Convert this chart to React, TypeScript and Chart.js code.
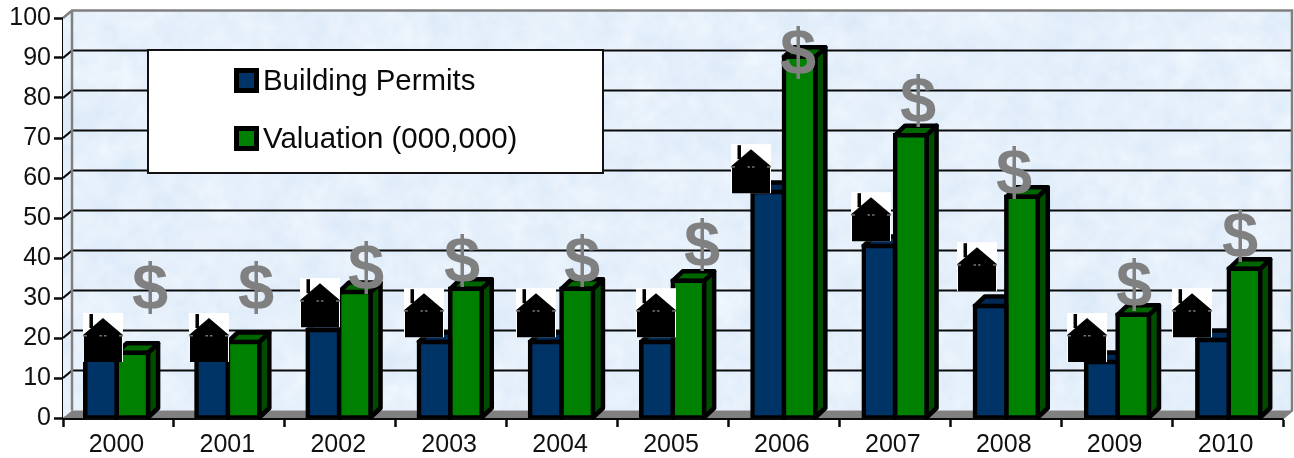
import React, { useEffect, useRef } from "react";
import { Chart, registerables } from "chart.js";

Chart.register(...registerables);

const years = ["2000", "2001", "2002", "2003", "2004", "2005", "2006", "2007", "2008", "2009", "2010"];
const buildingPermits = [15, 15, 22, 19, 19, 19, 56.5, 43, 28, 14, 19.5];
const valuation = [16.3, 19, 31.5, 32.3, 32.3, 34.3, 90.3, 70.7, 55.3, 25.8, 37.3];
const yTicks = [0, 10, 20, 30, 40, 50, 60, 70, 80, 90, 100];
// Where the pasted pictures rest, on the value axis.
const houseLevels = [14, 14, 22.7, 20.2, 20.2, 20.2, 56.2, 44.2, 31.7, 14, 20.2];
const dollarLevels = [31.7, 31.7, 36.7, 38.5, 38.5, 42.5, 90.5, 78.5, 60.5, 32.5, 44.7];
// Horizontal placement of the pictures relative to the category centre.
const houseShift = [-15.5, -20.4, -20.3, -27.2, -26.1, -17, -32.9, -23.8, -28.7, -29.6, -35.5];
const dollarShift = [31.5, 26.6, 25.7, 10.8, 19.9, 29, 14.1, 23.2, 8.3, 17.4, 12.5];

const FONT = '"Liberation Sans", Arial, sans-serif';
const DX = 9;
const DY = -7.5;
const BAR_DX = 10;
const BAR_DY = -9.5;
const BLUE = "#003366";
const GREEN = "#008000";
const INK = "#0a0a0a";

function mix(v: number): number {
  let h = v | 0;
  h = Math.imul(h ^ (h >>> 16), 0x85ebca6b);
  h = Math.imul(h ^ (h >>> 13), 0xc2b2ae35);
  return h ^ (h >>> 16);
}

function hash(i: number, j: number): number {
  return (mix(mix(i) + j) >>> 0) / 4294967295;
}

function makeTexture(w: number, h: number): HTMLCanvasElement {
  const big = document.createElement("canvas");
  big.width = w;
  big.height = h;
  const bctx = big.getContext("2d")!;
  bctx.imageSmoothingEnabled = true;
  bctx.imageSmoothingQuality = "high";
  bctx.fillStyle = "#e4f0fc";
  bctx.fillRect(0, 0, w, h);
  [[26, 0.55, 11], [11, 0.4, 57], [5, 0.2, 131]].forEach(([cell, alpha, seed]) => {
    const cols = Math.ceil(w / cell) + 2;
    const rows = Math.ceil(h / cell) + 2;
    const small = document.createElement("canvas");
    small.width = cols;
    small.height = rows;
    const sctx = small.getContext("2d")!;
    const img = sctx.createImageData(cols, rows);
    for (let j = 0; j < rows; j++) {
      for (let i = 0; i < cols; i++) {
        const n = hash(i + seed, j + seed * 3);
        const k = (i + j * cols) * 4;
        img.data[k] = 214 + n * 32;
        img.data[k + 1] = 230 + n * 20;
        img.data[k + 2] = 246 + n * 9;
        img.data[k + 3] = 255;
      }
    }
    sctx.putImageData(img, 0, 0);
    bctx.globalAlpha = alpha;
    bctx.drawImage(small, 0, 0, cols * cell, rows * cell);
  });
  bctx.globalAlpha = 1;
  return big;
}

function drawHouse(ctx: CanvasRenderingContext2D, cx: number, bottom: number) {
  ctx.fillStyle = "#ffffff";
  ctx.fillRect(cx - 20, bottom - 49, 40, 49);
  ctx.fillStyle = "#000000";
  ctx.fillRect(cx - 13.5, bottom - 48, 3.5, 14);
  ctx.beginPath();
  ctx.moveTo(cx, bottom - 44);
  ctx.lineTo(cx + 20, bottom - 27);
  ctx.lineTo(cx + 19, bottom - 26);
  ctx.lineTo(cx + 19, bottom);
  ctx.lineTo(cx - 19, bottom);
  ctx.lineTo(cx - 19, bottom - 26);
  ctx.lineTo(cx - 20, bottom - 27);
  ctx.closePath();
  ctx.fill();
  ctx.fillStyle = "#777777";
  ctx.fillRect(cx - 20, bottom - 27, 4, 1.5);
  ctx.fillRect(cx + 16, bottom - 27, 4, 1.5);
  ctx.fillRect(cx - 3.5, bottom - 27, 2.5, 1.5);
  ctx.fillRect(cx + 1, bottom - 27, 2.5, 1.5);
}

const sceneryPlugin = {
  id: "scenery",
  beforeDatasetsDraw(chart: any) {
    const ctx: CanvasRenderingContext2D = chart.ctx;
    const { left, right, top, bottom } = chart.chartArea;
    const y = chart.scales.y;
    ctx.save();
    const wallTop = top + DY;
    const tex = makeTexture(Math.ceil(right - left + DX + 2), Math.ceil(bottom - top + 12));
    // Side wall and back wall share the texture.
    ctx.beginPath();
    ctx.moveTo(left, bottom);
    ctx.lineTo(left + DX, bottom + DY);
    ctx.lineTo(right + DX, bottom + DY);
    ctx.lineTo(right + DX, wallTop);
    ctx.lineTo(left + DX, wallTop);
    ctx.lineTo(left, top);
    ctx.closePath();
    ctx.save();
    ctx.clip();
    ctx.drawImage(tex, left, wallTop);
    ctx.restore();
    // Floor.
    ctx.fillStyle = "#808080";
    ctx.beginPath();
    ctx.moveTo(left, bottom);
    ctx.lineTo(left + DX, bottom + DY);
    ctx.lineTo(right + DX, bottom + DY);
    ctx.lineTo(right, bottom);
    ctx.closePath();
    ctx.fill();
    // Gridlines run along the side wall and the back wall.
    ctx.strokeStyle = INK;
    ctx.lineWidth = 2.2;
    yTicks.forEach((t) => {
      if (t === 0 || t === 100) return;
      const py = y.getPixelForValue(t);
      ctx.beginPath();
      ctx.moveTo(left, py);
      ctx.lineTo(left + DX, py + DY);
      ctx.lineTo(right + DX, py + DY);
      ctx.stroke();
    });
    // Grey wall edges.
    ctx.strokeStyle = "#808080";
    ctx.lineWidth = 2.5;
    ctx.beginPath();
    ctx.moveTo(left, top);
    ctx.lineTo(left + DX, wallTop);
    ctx.lineTo(right + DX, wallTop);
    ctx.lineTo(right + DX, bottom + DY);
    ctx.lineTo(right, bottom);
    ctx.moveTo(left + DX, wallTop);
    ctx.lineTo(left + DX, bottom + DY);
    ctx.stroke();
    ctx.restore();
    // The bars run a hair wider than the axis: a slight stretch about the middle.
    ctx.save();
    ctx.transform(1.0027, 0, 0, 1, -2.117, 0);
    // Depth faces of the bars.
    const sides = ["#002244", "#004d00"];
    const tops = ["#002a55", "#006600"];
    [0, 1].forEach((d) => {
      chart.getDatasetMeta(d).data.forEach((bar: any) => {
        const half = bar.width / 2;
        const l = bar.x - half;
        const r = bar.x + half;
        const t = bar.y;
        const b = bar.base;
        ctx.lineWidth = 4.5;
        ctx.lineJoin = "round";
        ctx.strokeStyle = "#000000";
        ctx.fillStyle = sides[d];
        ctx.beginPath();
        ctx.moveTo(r, t);
        ctx.lineTo(r + BAR_DX, t + BAR_DY);
        ctx.lineTo(r + BAR_DX, b + BAR_DY);
        ctx.lineTo(r, b);
        ctx.closePath();
        ctx.fill();
        ctx.stroke();
        ctx.fillStyle = tops[d];
        ctx.beginPath();
        ctx.moveTo(l, t);
        ctx.lineTo(l + BAR_DX, t + BAR_DY);
        ctx.lineTo(r + BAR_DX, t + BAR_DY);
        ctx.lineTo(r, t);
        ctx.closePath();
        ctx.fill();
        ctx.stroke();
      });
    });
  },
  afterDatasetsDraw(chart: any) {
    const ctx: CanvasRenderingContext2D = chart.ctx;
    ctx.restore();
    const { x, y } = chart.scales;
    ctx.save();
    years.forEach((_, i) => {
      drawHouse(ctx, x.getPixelForValue(i) + houseShift[i], y.getPixelForValue(houseLevels[i]));
    });
    ctx.fillStyle = "#808080";
    ctx.font = `bold 65px ${FONT}`;
    ctx.textAlign = "center";
    ctx.textBaseline = "middle";
    years.forEach((_, i) => {
      const px = x.getPixelForValue(i) + dollarShift[i];
      const py = y.getPixelForValue(dollarLevels[i]);
      ctx.fillText("$", px, py);
    });
    // Legend panel.
    ctx.fillStyle = "#ffffff";
    ctx.strokeStyle = "#111111";
    ctx.lineWidth = 2;
    ctx.fillRect(148, 50, 455, 123);
    ctx.strokeRect(148, 50, 455, 123);
    ctx.font = `29.4px ${FONT}`;
    ctx.textAlign = "left";
    ctx.textBaseline = "alphabetic";
    chart.data.datasets.forEach((ds: any, i: number) => {
      const top = i === 0 ? 68 : 126;
      ctx.fillStyle = "#000000";
      ctx.fillRect(234, top, 25, 25);
      ctx.fillStyle = ds.backgroundColor;
      ctx.fillRect(239, top + 5, 15, 15);
      ctx.fillStyle = "#0a0a0a";
      ctx.fillText(ds.label, 263, top + 22);
    });
    ctx.restore();
  },
};

export default function App() {
  const ref = useRef<HTMLCanvasElement>(null);
  useEffect(() => {
    document.body.style.margin = "0";
    document.body.style.background = "#ffffff";
    const chart = new Chart(ref.current!, {
      type: "bar",
      data: {
        labels: years,
        datasets: [
          { label: "Building Permits", data: buildingPermits, backgroundColor: BLUE },
          { label: "Valuation (000,000)", data: valuation, backgroundColor: GREEN },
        ],
      },
      options: {
        animation: false,
        responsive: false,
        maintainAspectRatio: false,
        layout: { padding: { top: 17.5, right: 11, left: 0, bottom: 0 } },
        datasets: {
          bar: {
            categoryPercentage: 0.565,
            barPercentage: 1,
            borderColor: "#000000",
            borderWidth: 4.5,
            borderSkipped: false,
            inflateAmount: 2.25,
          },
        },
        plugins: { legend: { display: false }, tooltip: { enabled: false }, title: { display: false } },
        scales: {
          x: {
            afterFit: (s: any) => {
              s.height = 40;
            },
            border: { color: INK, width: 3 },
            grid: { drawOnChartArea: false, drawTicks: true, tickLength: 9, tickWidth: 2.5, tickColor: INK, offset: true },
            ticks: {
              color: "#111111",
              font: { family: FONT, size: 25 },
              padding: 3,
              maxRotation: 0,
              autoSkip: false,
              labelOffset: -2,
            },
          },
          y: {
            min: 0,
            max: 100,
            afterFit: (s: any) => {
              s.width = 63;
            },
            afterBuildTicks: (s: any) => {
              s.ticks = yTicks.map((value) => ({ value }));
            },
            border: { color: INK, width: 3 },
            grid: { drawOnChartArea: false, drawTicks: true, tickLength: 9, tickWidth: 2.5, tickColor: INK },
            ticks: { color: "#111111", font: { family: FONT, size: 25 }, padding: 3 },
          },
        },
      },
      plugins: [sceneryPlugin],
    } as any);
    return () => chart.destroy();
  }, []);
  return <canvas ref={ref} width={1294} height={458} style={{ display: "block", width: 1294, height: 458 }} />;
}
